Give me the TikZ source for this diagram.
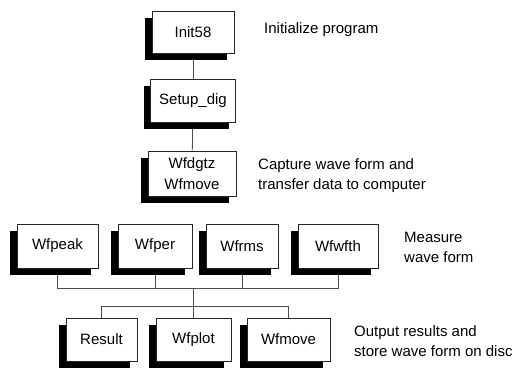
\documentclass[tikz,border=0pt]{standalone}
\usepackage{fontspec}
\setmainfont{Liberation Sans}
\usetikzlibrary{shadows,backgrounds}

\begin{document}
\begin{tikzpicture}[x=1pt,y=-1pt,
  modbox/.style={draw=black!85,line width=0.8pt,fill=white,inner sep=0pt,minimum height=43pt,align=center,font=\fontsize{15}{21}\selectfont,general shadow={fill=black,shadow xshift=-7pt,shadow yshift=-7pt}},
  note/.style={anchor=west,align=left,inner sep=0pt,font=\fontsize{15}{20}\selectfont},
  link/.style={draw=black!70,line width=0.8pt}]
  \useasboundingbox (0,0) rectangle (519,369);
  % main sequence
  \node[modbox,minimum width=82pt,minimum height=42pt] (init) at (193,32) {Init58};
  \node[modbox,minimum width=85pt] (setup) at (193,100.5) {Setup\_dig};
  \node[modbox,minimum width=88pt,minimum height=45pt] (capture) at (192,173.5) {Wfdgtz\\Wfmove};
  % measurements
  \node[modbox,minimum width=81pt,minimum height=44pt] (peak) at (57.5,246) {Wfpeak};
  \node[modbox,minimum width=74pt,minimum height=44pt] (per) at (155,246) {Wfper};
  \node[modbox,minimum width=72pt,minimum height=44pt] (rms) at (242,246) {Wfrms};
  \node[modbox,minimum width=80pt,minimum height=44pt] (wfth) at (338,246) {Wfwfth};
  % output
  \node[modbox,minimum width=71pt] (result) at (101.5,339.5) {Result};
  \node[modbox,minimum width=75pt] (plot) at (193.5,339.5) {Wfplot};
  \node[modbox,minimum width=83pt] (store) at (288.5,339.5) {Wfmove};
  % notes
  \node[note] (n1) at (264,30) {Initialize program};
  \node[note] (n2) at (258,176) {Capture wave form and\\transfer data to computer};
  \node[note] (n3) at (404,247.5) {Measure\\wave form};
  \node[note] (n4) at (354,341.5) {Output results and\\store wave form on disc};
  \coordinate (busa) at (193.5,288);
  \coordinate (busb) at (193.5,306);
  \begin{pgfonlayer}{background}
    \draw[link] (init) -- (setup);
    \draw[link] (setup) -- (capture);
    \draw[link] (peak.south) |- (busa);
    \draw[link] (per.south) |- (busa);
    \draw[link] (rms.south) |- (busa);
    \draw[link] (wfth.south) |- (busa);
    \draw[link] (busa) -- (busb);
    \draw[link] (busb) -| (result.north);
    \draw[link] (busb) -- (plot.north);
    \draw[link] (busb) -| (store.north);
  \end{pgfonlayer}
\end{tikzpicture}
\end{document}
